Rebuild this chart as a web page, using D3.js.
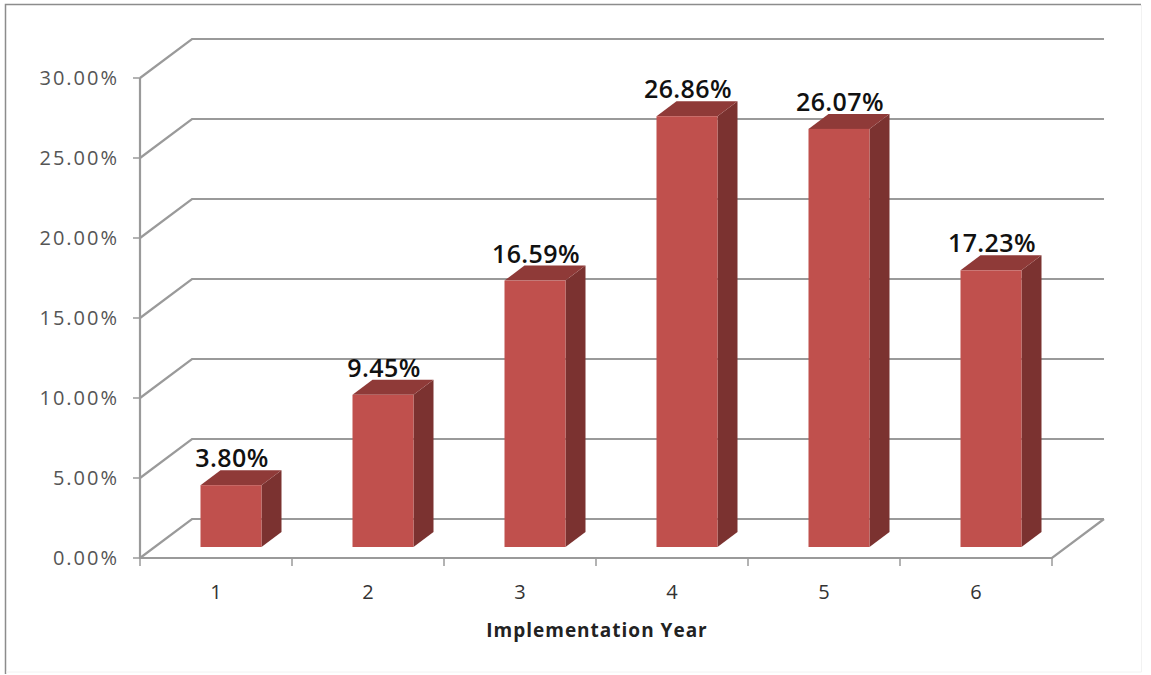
<!DOCTYPE html>
<html><head><meta charset="utf-8">
<style>html,body{margin:0;padding:0;background:#fff;overflow:hidden}svg{display:block}</style>
<script src="https://cdn.jsdelivr.net/npm/d3@7"></script></head><body>
<svg id="c" width="1151" height="675"></svg>
<script>
const years = [1,2,3,4,5,6];
const values = [3.80,9.45,16.59,26.86,26.07,17.23];
const valueLabels = ["3.80%","9.45%","16.59%","26.86%","26.07%","17.23%"];
const yTicks = [0,5,10,15,20,25,30];
const xTitle = "Implementation Year";

const svg = d3.select("#c");
const axisColor = "#9a9a9a", textColor = "#555555";
const x = d3.scaleBand().domain(years).range([140,1052]);
const y = d3.scaleLinear().domain([0,30]).range([558,78]);
const wall = {dx:52, dy:-39};
const bar = {inset:60.5, width:61, lift:11, dx:20, dy:-15};

svg.append("path").attr("d","M5.5,674V4.5H1141").attr("fill","none").attr("stroke","#8c8c8c").attr("stroke-width",1.5);
svg.append("path").attr("d","M1141.5,5V672H6").attr("fill","none").attr("stroke","#f2f2f2").attr("stroke-width",1);

const grid = svg.append("g").attr("fill","none").attr("stroke",axisColor).attr("stroke-width",2.2);
yTicks.forEach(t=>{
  grid.append("path").attr("d",`M140,${y(t)}L${140+wall.dx},${y(t)+wall.dy}H${1052+wall.dx}`);
});
grid.append("path").attr("d",`M140,${y(30)}V${y(0)}H1052L${1052+wall.dx},${y(0)+wall.dy}`);

const ticks = svg.append("g").attr("stroke",axisColor).attr("stroke-width",1.5);
yTicks.forEach(t=>ticks.append("line").attr("x1",133).attr("x2",140).attr("y1",y(t)).attr("y2",y(t)));
d3.range(7).forEach(i=>{const px=140+i*x.step();ticks.append("line").attr("x1",px).attr("x2",px).attr("y1",558).attr("y2",566);});

svg.append("g").selectAll("text").data(yTicks).join("text")
  .attr("x",119).attr("y",d=>y(d)+6.5).attr("text-anchor","end")
  .attr("font-family","'Open Sans'").attr("font-size",20).attr("letter-spacing",2).attr("fill",textColor)
  .text(d=>d3.format(".2f")(d)+"%");
svg.append("g").selectAll("text").data(years).join("text")
  .attr("x",d=>x(d)+x.bandwidth()/2).attr("y",599).attr("text-anchor","middle")
  .attr("font-family","'Open Sans'").attr("font-size",20).attr("fill","#333")
  .text(d=>d);
svg.append("text").attr("x",597).attr("y",637).attr("text-anchor","middle")
  .attr("font-family","'Open Sans'").attr("font-size",19).attr("font-weight",700).attr("letter-spacing",1).attr("fill","#222").text(xTitle);

const base = y(0)-bar.lift;
const bars = svg.append("g").selectAll("g").data(values).join("g");
const bx = (d,i)=>x(years[i])+bar.inset;
const ty = d=>y(d)-bar.lift-1;
bars.append("path").attr("fill","#7b3230").attr("d",(d,i)=>{const l=bx(d,i)+bar.width;
  return `M${l},${ty(d)}L${l+bar.dx},${ty(d)+bar.dy}V${base+bar.dy}L${l},${base}Z`;});
bars.append("path").attr("fill","#8f3a38").attr("d",(d,i)=>{const l=bx(d,i);
  return `M${l},${ty(d)}L${l+bar.dx},${ty(d)+bar.dy}H${l+bar.width+bar.dx}L${l+bar.width},${ty(d)}Z`;});
bars.append("rect").attr("fill","#c0504d").attr("x",bx).attr("y",ty).attr("width",bar.width).attr("height",d=>base-ty(d));

svg.append("g").selectAll("text").data(values).join("text")
  .attr("x",(d,i)=>bx(d,i)+bar.width/2+1).attr("y",d=>ty(d)-18)
  .attr("text-anchor","middle").attr("font-family","'Open Sans'").attr("font-size",25).attr("font-weight",600).attr("letter-spacing",0.4).attr("fill","#111")
  .text((d,i)=>valueLabels[i]);
</script></body></html>
